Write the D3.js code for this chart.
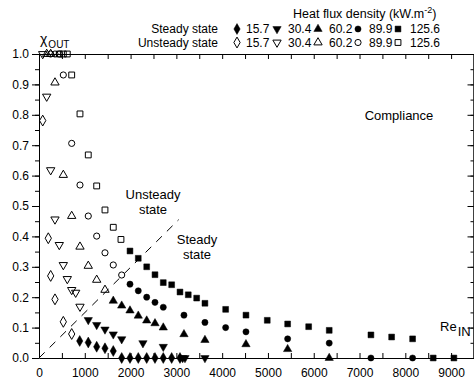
<!DOCTYPE html>
<html><head><meta charset="utf-8">
<script src="https://cdn.jsdelivr.net/npm/d3@7"></script>
<style>body{margin:0;background:#fff}svg{display:block}text{font-family:"Liberation Sans",Arial,sans-serif;fill:#000}</style>
</head><body><svg id="c" width="474" height="382"></svg>
<script>
// ---- data ----
const xTicks = [0,1000,2000,3000,4000,5000,6000,7000,8000,9000];
const yTicks = [0,0.1,0.2,0.3,0.4,0.5,0.6,0.7,0.8,0.9,1.0];
const fluxLabels = ["15.7","30.4","60.2","89.9","125.6"];

// Steady state (filled)
const reS157 = [889,1076,1260,1441,1622,1806,1987,2168,2352,2533,2714,2897,3079];
const chiS157 = [0.056,0.051,0.037,0.032,0.023,0,0,0,0,0,0,0,0];
const reS304 = [1076,1260,1441,1622,1806,2270,2714,3137,3188,3624];
const chiS304 = [0.125,0.109,0.094,0.078,0.062,0.049,0.037,0,0,0];
const reS602 = [1622,1806,1987,2168,2352,2533,2714,3166,3624,4520,5430,6338];
const chiS602 = [0.188,0.172,0.156,0.139,0.123,0.114,0.100,0.078,0.059,0.045,0.029,0];
const reS899 = [1987,2168,2352,2533,2714,3166,3624,4076,4520,5430,6338,7249,8159];
const chiS899 = [0.243,0.221,0.200,0.183,0.167,0.141,0.117,0.100,0.086,0.063,0.049,0,0];
const reS1256 = [1987,2168,2352,2533,2714,2897,3079,3260,3443,3624,4076,4520,4985,5430,5889,6338,7249,7701,8159,8609,9061];
const chiS1256 = [0.352,0.328,0.300,0.274,0.248,0.241,0.217,0.208,0.197,0.180,0.160,0.141,0.124,0.112,0.103,0.091,0.076,0.069,0.063,0,0];

// Unsteady state (open)
const reU157 = [81,203,255,349,531,714];
const chiU157 = [0.781,0.394,0.270,0.193,0.119,0.079];
const reU304 = [81,168,255,349,443,531,618,714,801,895];
const chiU304 = [1.0,0.860,0.618,0.456,0.372,0.306,0.260,0.224,0.215,0.169];
const reU602 = [168,255,349,531,714,895,1076,1260,1441];
const chiU602 = [1.0,1.0,0.906,0.602,0.467,0.366,0.303,0.257,0.224];
const reU899 = [255,349,443,531,714,895,1076,1260,1441,1622,1806];
const chiU899 = [1.0,1.0,1.0,0.931,0.706,0.569,0.467,0.401,0.346,0.306,0.273];
const reU1256 = [443,531,618,714,895,1076,1260,1441,1622,1790];
const chiU1256 = [1.0,1.0,1.0,0.931,0.803,0.668,0.566,0.487,0.430,0.390];

// compliance boundary (dashed)
const boundRe = [0,3050];
const boundChi = [0,0.455];

// ---- drawing ----
const svg = d3.select("#c");
const x = d3.scaleLinear().domain([0,9500]).range([39,474]);
const y = d3.scaleLinear().domain([0,1]).range([358,54]);

const shapes = {
  diamond: {t:d3.symbolDiamond, s:34, r:0},
  down: {t:d3.symbolTriangle, s:30, r:180},
  up: {t:d3.symbolTriangle, s:30, r:0},
  circle: {t:d3.symbolCircle, s:30, r:0},
  square: {t:d3.symbolSquare, s:34, r:0}
};
const shapeOrder = ["diamond","down","up","circle","square"];

function drawSeries(xs, ys, shape, filled){
  const sh = shapes[shape];
  svg.append("g").selectAll("path").data(xs.map((v,i)=>[v,ys[i]])).join("path")
    .attr("d", d3.symbol().type(sh.t).size(sh.s))
    .attr("transform", d=>`translate(${x(d[0])},${y(d[1])}) rotate(${sh.r})`)
    .attr("fill", filled ? "#000" : "none")
    .attr("stroke", "#000").attr("stroke-width", filled ? 0.5 : 1);
}

// axes
const minorX = d3.range(0,9501,500);
const minorY = d3.range(0,1.0001,0.05);
// left axis
const gl = svg.append("g").attr("transform","translate(39,0)")
  .call(d3.axisLeft(y).tickValues(yTicks).tickFormat(d3.format(".1f")).tickSizeInner(7).tickSizeOuter(0).tickPadding(3));
gl.selectAll("text").attr("font-size",12);
svg.append("g").attr("transform","translate(39,0)")
  .call(d3.axisLeft(y).tickValues(minorY).tickFormat("").tickSizeInner(4).tickSizeOuter(0))
  .select(".domain").remove();
// bottom axis
const gb = svg.append("g").attr("transform","translate(0,358)")
  .call(d3.axisBottom(x).tickValues(xTicks).tickFormat(d3.format("d")).tickSizeInner(0).tickSizeOuter(0).tickPadding(10));
gb.selectAll("text").attr("font-size",12);
svg.append("g").attr("transform","translate(0,358)")
  .call(d3.axisBottom(x).tickValues(minorX).tickFormat("").tickSizeInner(-5).tickSizeOuter(0))
  .select(".domain").remove();
// top axis
svg.append("g").attr("transform","translate(0,54)")
  .call(d3.axisTop(x).tickValues(minorX).tickFormat("").tickSizeInner(-5).tickSizeOuter(0));
// right axis
svg.append("g").attr("transform","translate(473.5,0)")
  .call(d3.axisRight(y).tickValues(yTicks).tickFormat("").tickSizeInner(-6).tickSizeOuter(0));
svg.append("g").attr("transform","translate(473.5,0)")
  .call(d3.axisRight(y).tickValues(minorY).tickFormat("").tickSizeInner(-3).tickSizeOuter(0));
svg.selectAll(".domain, .tick line").attr("stroke","#000").attr("stroke-width",1);

// dashed boundary
svg.append("path").datum(boundRe.map((v,i)=>[v,boundChi[i]]))
  .attr("d", d3.line().x(d=>x(d[0])).y(d=>y(d[1])))
  .attr("stroke","#000").attr("stroke-width",1).attr("stroke-dasharray","8,7").attr("fill","none");

// series
drawSeries(reS157, chiS157, "diamond", true);
drawSeries(reS304, chiS304, "down", true);
drawSeries(reS602, chiS602, "up", true);
drawSeries(reS899, chiS899, "circle", true);
drawSeries(reS1256, chiS1256, "square", true);
drawSeries(reU157, chiU157, "diamond", false);
drawSeries(reU304, chiU304, "down", false);
drawSeries(reU602, chiU602, "up", false);
drawSeries(reU899, chiU899, "circle", false);
drawSeries(reU1256, chiU1256, "square", false);

// labels
const t1 = svg.append("text").attr("x",40).attr("y",44).attr("font-size",14);
t1.append("tspan").text("χ");
t1.append("tspan").attr("font-size",10).attr("dy",4).attr("dx",1).text("OUT");
const t2 = svg.append("text").attr("x",440).attr("y",331).attr("font-size",13);
t2.append("tspan").text("Re");
t2.append("tspan").attr("font-size",13).attr("dy",5).attr("dx",1).text("IN");
svg.append("text").attr("x",399).attr("y",120).attr("text-anchor","middle").attr("font-size",13).text("Compliance");
svg.append("text").attr("x",153).attr("y",199).attr("text-anchor","middle").attr("font-size",13).text("Unsteady");
svg.append("text").attr("x",153).attr("y",214).attr("text-anchor","middle").attr("font-size",13).text("state");
svg.append("text").attr("x",197).attr("y",244).attr("text-anchor","middle").attr("font-size",13).text("Steady");
svg.append("text").attr("x",197).attr("y",259).attr("text-anchor","middle").attr("font-size",13).text("state");

// legend
const th = svg.append("text").attr("x",293).attr("y",17.5).attr("font-size",12.5);
th.append("tspan").text("Heat flux density (kW.m");
th.append("tspan").attr("font-size",9).attr("dy",-5).text("-2");
th.append("tspan").attr("dy",5).text(")");
const legRows = [{label:"Steady state", filled:true, yy:29},{label:"Unsteady state", filled:false, yy:42.5}];
const markX = [237,277,318,358,398];
const valX = [246,288,329,369,410];
legRows.forEach(r=>{
  svg.append("text").attr("x",218).attr("y",r.yy+4).attr("text-anchor","end").attr("font-size",12).text(r.label);
  shapeOrder.forEach((s,i)=>{
    const sh = shapes[s];
    svg.append("path").attr("d", d3.symbol().type(sh.t).size(sh.s))
      .attr("transform",`translate(${markX[i]},${r.yy}) rotate(${sh.r})`)
      .attr("fill", r.filled?"#000":"none").attr("stroke","#000").attr("stroke-width", r.filled?0.5:1);
    svg.append("text").attr("x",valX[i]).attr("y",r.yy+4).attr("font-size",12).text(fluxLabels[i]);
  });
});
</script></body></html>
